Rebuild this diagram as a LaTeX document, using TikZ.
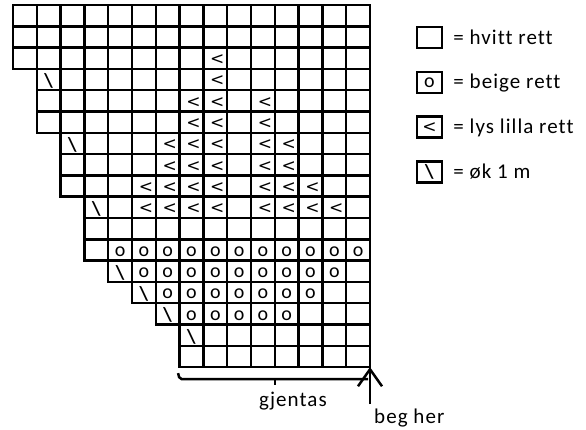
\documentclass[tikz,border=0pt]{standalone}
\usepackage{fontspec}
\setmainfont{Carlito}
\newfontfamily\dejavu{DejaVu Sans}
\usepackage{tikz}
\usetikzlibrary{arrows.meta,positioning,calc}
\newcommand{\symfont}{\fontsize{20}{22}\selectfont}
\newcommand{\ltfont}{\dejavu\fontsize{17}{19}\selectfont}
\newcommand{\txtfont}{\fontsize{21}{24}\selectfont
  \addfontfeature{LetterSpace=5,Ligatures=NoCommon}}
\tikzset{
  rute/.style={draw=black,line width=2.5pt},
  merke/.style={inner sep=0pt,font=\symfont,yshift=-1.5pt},
  lilla/.style={merke,font=\ltfont,xshift=2pt},
  okm/.style={merke,font=\symfont\bfseries},
  keybox/.style={rectangle,draw=black,line width=2.5pt,minimum width=25pt,
    minimum height=21pt,inner sep=0pt,font=\symfont},
  keytxt/.style={inner sep=0pt,font=\txtfont,text height=14pt,
    text depth=1pt,anchor=west},
  pil/.style={-{Straight Barb[length=17pt,width=24pt]},line width=2.5pt},
  klamme/.style={line width=2.5pt,rounded corners=2pt},
}

\begin{document}
\begin{tikzpicture}[x=1pt,y=-1pt]
\useasboundingbox (0,0) rectangle (586,429);

% DIAGRAM (rows from the top, start column of each row)
\begin{scope}[shift={(13,5)},x=23.8pt,y=-21.3pt]
\foreach \r/\s in {0/0,1/0,2/0,3/1,4/1,5/1,6/2,7/2,8/2,9/3,10/3,11/3,
                   12/4,13/5,14/6,15/7,16/7}
  \foreach \c in {\s,...,14}
    \draw[rute] (\c,\r) rectangle ++(1,1);

% lys lilla
\foreach \r/\c in {2/8,3/8,4/7,4/8,4/10,5/7,5/8,5/10,
                   6/6,6/7,6/8,6/10,6/11,7/6,7/7,7/8,7/10,7/11,
                   8/5,8/6,8/7,8/8,8/10,8/11,8/12,
                   9/5,9/6,9/7,9/8,9/10,9/11,9/12,9/13}
  \node[lilla] (l-\r-\c) at (\c+0.5,\r+0.5) {<};

% beige
\foreach \r/\a/\b in {11/4/14,12/5/13,13/6/12,14/7/11}
  \foreach \c in {\a,...,\b}
    \node[merke] (b-\r-\c) at (\c+0.5,\r+0.5) {o};

% ok 1 m
\foreach \r/\c in {3/1,6/2,9/3,12/4,13/5,14/6,15/7}
  \node[okm] (k-\r-\c) at (\c+0.5,\r+0.5) {\textbackslash};

\coordinate (repV) at (7,17);
\coordinate (repM) at (11,17);
\coordinate (hjorne) at (15,17);
\end{scope}

% gjentas
\draw[klamme] ($(repV)+(-1.5pt,-6pt)$) -- ($(repV)+(0,-12pt)$)
  -- ($(hjorne)+(-2pt,-12pt)$);
\draw[klamme] ($(repM)+(0,-12pt)$) -- ($(repM)+(0,-18pt)$);
\node[font=\txtfont,inner sep=0pt,anchor=base] (gjentas) at (293,406) {gjentas};

% beg her
\coordinate (start) at ($(hjorne)+(0,-37pt)$);
\draw[pil] (start) -- (hjorne);
\node[font=\txtfont,inner sep=0pt,anchor=base west] (begher) at (374,423) {beg her};

% FORKLARING
\node[keybox] (kHvit) at (429.5,37.5) {};
\node[keybox,below=21.3pt of kHvit] (kBeige) {o};
\node[keybox,below=21.3pt of kBeige] (kLilla) {\ltfont <};
\node[keybox,below=21.3pt of kLilla] (kOk) {\bfseries\textbackslash};
\node[keytxt,right=10pt of kHvit] (tHvit) {= hvitt rett};
\node[keytxt,right=10pt of kBeige] (tBeige) {= beige rett};
\node[keytxt,right=10pt of kLilla] (tLilla) {= lys lilla rett};
\node[keytxt,right=10pt of kOk] (tOk) {= øk 1 m};
\end{tikzpicture}
\end{document}
